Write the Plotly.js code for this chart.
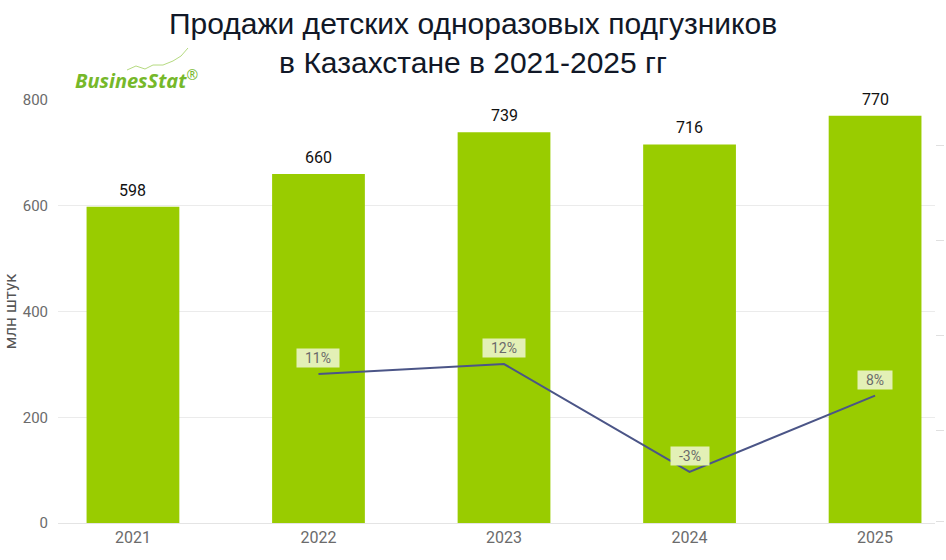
<!DOCTYPE html>
<html>
<head>
<meta charset="utf-8">
<script src="https://cdn.plot.ly/plotly-3.0.1.min.js"></script>
<style>
  html, body { margin: 0; padding: 0; background: #ffffff; }
  #chart { width: 946px; height: 560px; }
</style>
</head>
<body>
<div id="chart"></div>
<script>
// ---- data ----
const years = ['2021', '2022', '2023', '2024', '2025'];
const sales = [598, 660, 739, 716, 770];           // млн штук
const growthYears = ['2022', '2023', '2024', '2025'];
const growth = [10.6, 12.0, -3.0, 7.6];            // % к предыдущему году
const growthLabels = ['11%', '12%', '-3%', '8%'];
const yTicks = [0, 200, 400, 600, 800];

const barTrace = {
  type: 'bar',
  x: years,
  y: sales,
  width: 0.5,
  marker: { color: '#99cc00' },
  hoverinfo: 'x+y',
  showlegend: false
};

const lineTrace = {
  type: 'scatter',
  mode: 'lines',
  x: growthYears,
  y: growth,
  yaxis: 'y2',
  line: { color: '#4b5587', width: 2 },
  hoverinfo: 'x+y',
  showlegend: false
};

const annotations = [];
years.forEach((yr, i) => {
  annotations.push({
    x: years.indexOf(yr), y: sales[i], xref: 'x', yref: 'y',
    text: String(sales[i]),
    showarrow: false,
    xanchor: 'center',
    yanchor: 'bottom',
    yshift: 5,
    font: { family: 'Roboto', size: 16, color: '#111111' }
  });
});
growthYears.forEach((yr, i) => {
  annotations.push({
    x: years.indexOf(yr), y: growth[i], xref: 'x', yref: 'y2',
    text: '\u00a0\u00a0' + growthLabels[i] + '\u00a0\u00a0',
    showarrow: false,
    xanchor: 'center',
    yanchor: 'middle',
    yshift: 16,
    bgcolor: '#e3f0b6',
    borderpad: 1,
    font: { family: 'Roboto', size: 14, color: '#6a6a6a' }
  });
});
// title
annotations.push({
  xref: 'paper', yref: 'paper',
  x: 0.5 - (58 - 11) / 2 / 877, y: (523 - 43) / 423,
  xanchor: 'center', yanchor: 'middle',
  text: 'Продажи детских одноразовых подгузников<br>в Казахстане в 2021-2025 гг',
  showarrow: false,
  font: { family: 'Liberation Sans', size: 30, color: '#111827' }
});
// logo
annotations.push({
  xref: 'paper', yref: 'paper',
  x: (73 - 58) / 877, y: (523 - 80) / 423,
  xanchor: 'left', yanchor: 'middle',
  text: '<b><i>BusinesStat</i></b><sup>®</sup>',
  showarrow: false,
  font: { family: 'Open Sans', size: 20, color: '#76b82a' }
});

function px(x) { return ((x - 58) / 877).toFixed(4); }
function py(y) { return ((523 - y) / 423).toFixed(4); }
const curvePts = [[127, 70], [136, 66], [145, 69], [153, 65], [163, 65], [173, 61], [181, 56], [188, 48]];
let pathStr = 'M ' + px(curvePts[0][0]) + ' ' + py(curvePts[0][1]);
for (let i = 1; i < curvePts.length; i++) {
  pathStr += ' L ' + px(curvePts[i][0]) + ' ' + py(curvePts[i][1]);
}

const layout = {
  width: 946,
  height: 560,
  paper_bgcolor: '#ffffff',
  plot_bgcolor: '#ffffff',
  margin: { l: 58, r: 11, t: 100, b: 37 },
  xaxis: {
    type: 'category',
    range: [-0.404, 4.323],
    showgrid: false,
    showline: true,
    linecolor: '#e4e4e4',
    ticks: '',
    tickfont: { family: 'Roboto', size: 16, color: '#6b6b6b' },
    fixedrange: true
  },
  yaxis: {
    range: [0, 800],
    tickvals: yTicks,
    showgrid: true,
    gridcolor: '#ebebeb',
    zeroline: false,
    showline: false,
    ticks: '',
    ticklabelstandoff: 9,
    tickfont: { family: 'Roboto', size: 15, color: '#6b6b6b' },
    title: {
      text: 'млн штук',
      standoff: 5,
      font: { family: 'Roboto', size: 17, color: '#555555' }
    },
    fixedrange: true
  },
  yaxis2: {
    overlaying: 'y',
    side: 'right',
    range: [-10.1, 48.7],
    tickvals: [-9.9, 2.8, 16.0, 29.2, 42.4],
    showgrid: false,
    zeroline: false,
    showline: false,
    showticklabels: false,
    ticks: 'outside',
    ticklen: 8,
    tickcolor: '#e0e0e0',
    fixedrange: true
  },
  bargap: 0.5,
  annotations: annotations,
  shapes: [{
    type: 'path', xref: 'paper', yref: 'paper',
    path: pathStr,
    line: { color: '#b5da80', width: 1 }
  }]
};

Plotly.newPlot('chart', [barTrace, lineTrace], layout, { displayModeBar: false, staticPlot: true });
</script>
</body>
</html>
